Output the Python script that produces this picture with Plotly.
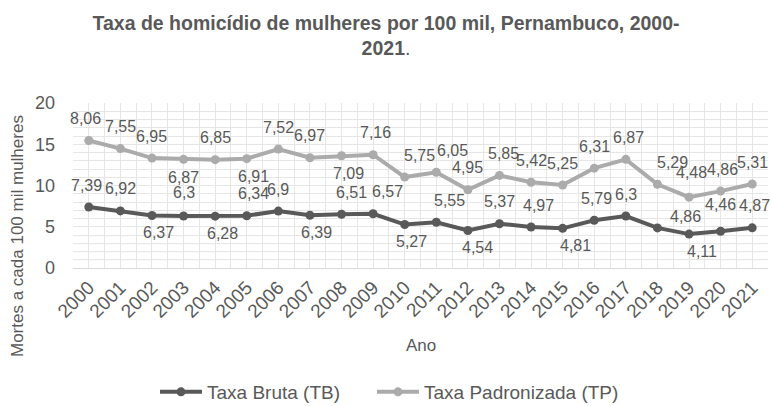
import plotly.graph_objects as go

years = [str(y) for y in range(2000, 2022)]
taxa_bruta = [7.39, 6.92, 6.37, 6.3, 6.28, 6.34, 6.9, 6.39, 6.51, 6.57, 5.27,
              5.55, 4.54, 5.37, 4.97, 4.81, 5.79, 6.3, 4.86, 4.11, 4.46, 4.87]
taxa_padronizada = [8.06, 7.55, 6.95, 6.87, 6.85, 6.91, 7.52, 6.97, 7.09, 7.16, 5.75,
                    6.05, 4.95, 5.85, 5.42, 5.25, 6.31, 6.87, 5.29, 4.48, 4.86, 5.31]
y_ticks = [0, 5, 10, 15, 20]

# label placement offsets in pixels (style only)
U, D = 22, -17
dy_tb = [U, U, D, 24, D, U, U, D, U, U, D, U, D, U, U, D, U, U, 11, D, 27, U]
dx_tb = [-2, 0, 7, 0, 7, 7, 0, 7, 10, 14, 7, 13, 10, 0, 7, 13, 2, 0, 28, 13, 0, 2]
dy_tp = [U, U, U, -18, U, -18, U, U, -18, U, U, U, U, U, U, U, U, U, U, 25, U, U]
dx_tp = [-3, 0, 0, 0, 0, 7, 0, 0, 7, 2, 15, 16, 0, 4, 0, 0, 0, 3, 15, 2, 2, 0]

def fmt(v):
    return ("%g" % v).replace(".", ",")

TXT = "#595959"
C_TB = "#595959"
C_TP = "#ababab"
GRID = "#e6e6e6"
FONT = "Liberation Sans, Arial, sans-serif"

xnum = list(range(len(years)))

fig = go.Figure()
fig.add_trace(go.Scatter(
    x=xnum, y=taxa_bruta, name="Taxa Bruta (TB)", stackgroup="one", fill="none",
    mode="lines+markers", line=dict(color=C_TB, width=4),
    marker=dict(color=C_TB, size=9), cliponaxis=False, legend="legend",
))
fig.add_trace(go.Scatter(
    x=xnum, y=taxa_padronizada, name="Taxa Padronizada (TP)", stackgroup="one", fill="none",
    mode="lines+markers", line=dict(color=C_TP, width=4),
    marker=dict(color=C_TP, size=9), cliponaxis=False, legend="legend2",
))

annotations = []
for i, x in enumerate(xnum):
    yb = taxa_bruta[i]
    yp = taxa_bruta[i] + taxa_padronizada[i]
    annotations.append(dict(x=x, y=yb, xref="x", yref="y", text=fmt(taxa_bruta[i]),
                            showarrow=False, xanchor="center", yanchor="middle",
                            xshift=dx_tb[i], yshift=dy_tb[i],
                            font=dict(family=FONT, size=16, color=TXT)))
    annotations.append(dict(x=x, y=yp, xref="x", yref="y", text=fmt(taxa_padronizada[i]),
                            showarrow=False, xanchor="center", yanchor="middle",
                            xshift=dx_tp[i], yshift=dy_tp[i],
                            font=dict(family=FONT, size=16, color=TXT)))

plot_top, plot_bot, plot_l, plot_r = 103, 268, 73, 768
annotations.append(dict(text="Ano", xref="paper", yref="paper", x=0.5,
                        y=(plot_bot - 345) / (plot_bot - plot_top),
                        xanchor="center", yanchor="middle", showarrow=False,
                        font=dict(family=FONT, size=17, color=TXT)))
annotations.append(dict(text="Mortes a cada 100 mil mulheres", xref="paper", yref="paper",
                        x=(17 - plot_l) / (plot_r - plot_l),
                        y=(plot_bot - 236) / (plot_bot - plot_top),
                        xanchor="center", yanchor="middle", showarrow=False,
                        textangle=-90, font=dict(family=FONT, size=17, color=TXT)))

def legend_at(px_left):
    return dict(orientation="h", x=(px_left - plot_l) / (plot_r - plot_l), xanchor="left",
                y=(406 - 392) / 406, yanchor="middle", yref="container",
                font=dict(family=FONT, size=19, color=TXT), itemwidth=42,
                bgcolor="rgba(0,0,0,0)")

fig.update_layout(
    width=772, height=406,
    margin=dict(l=plot_l, r=772 - plot_r, t=plot_top, b=406 - plot_bot),
    paper_bgcolor="white", plot_bgcolor="white",
    font=dict(family=FONT, color=TXT),
    title=dict(
        text="<b>Taxa de homicídio de mulheres por 100 mil, Pernambuco, 2000-</b><br><b>2021</b>.",
        x=0.5, xanchor="center", y=1 - 30 / 406, yanchor="top", yref="container",
        font=dict(family=FONT, size=19.5, color=TXT),
    ),
    showlegend=True,
    legend=legend_at(155),
    legend2=legend_at(372),
    xaxis=dict(
        range=[-0.5, len(years) - 0.5],
        tickmode="array", tickvals=xnum, ticktext=years, tickangle=-45,
        tickfont=dict(family=FONT, size=19, color=TXT),
        showgrid=True, gridcolor=GRID, gridwidth=1,
        minor=dict(tickmode="linear", tick0=-0.5, dtick=1, showgrid=True, gridcolor=GRID, gridwidth=1),
        zeroline=False, showline=True, linecolor="#d9d9d9", linewidth=1,
        ticks="", fixedrange=True,
    ),
    yaxis=dict(
        range=[0, 20], tickmode="array", tickvals=y_ticks,
        tickfont=dict(family=FONT, size=18, color=TXT),
        showgrid=True, gridcolor=GRID, gridwidth=1,
        minor=dict(dtick=1, showgrid=True, gridcolor=GRID, gridwidth=1),
        zeroline=False, ticks="", ticklabelstandoff=17, fixedrange=True,
    ),
    annotations=annotations,
)

fig.write_html("out.html", config={"displayModeBar": False},
               post_script="document.body.style.margin='0';")
